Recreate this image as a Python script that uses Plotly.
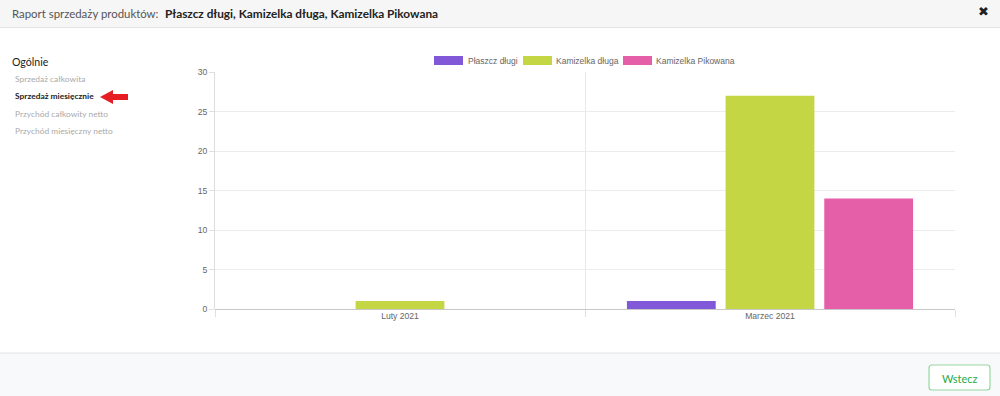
import plotly.graph_objects as go

categories = ["Luty 2021", "Marzec 2021"]
series_names = ["Płaszcz długi", "Kamizelka długa", "Kamizelka Pikowana"]
plaszcz_dlugi = [0, 1]
kamizelka_dluga = [1, 27]
kamizelka_pikowana = [0, 14]
y_ticks = [0, 5, 10, 15, 20, 25, 30]

menu_title = "Ogólnie"
menu_items = ["Sprzedaż całkowita", "Sprzedaż miesięcznie", "Przychód całkowity netto", "Przychód miesięczny netto"]
active_item = 1
header_label = "Raport sprzedaży produktów:"
header_products = "Płaszcz długi, Kamizelka długa, Kamizelka Pikowana"
button_label = "Wstecz"

W, H = 1000, 396
colors = ["rgb(129,89,216)", "rgb(197,214,68)", "rgb(229,94,168)"]
values = [plaszcz_dlugi, kamizelka_dluga, kamizelka_pikowana]

def px(x):
    return x / W

def py(y):
    return 1 - y / H

fig = go.Figure()
for name, vals, c in zip(series_names, values, colors):
    fig.add_trace(go.Bar(x=categories, y=vals, name=name, marker=dict(color=c, line=dict(width=0)),
                         showlegend=False))

shapes = []
annotations = []

# header
shapes.append(dict(type="rect", xref="paper", yref="paper", x0=0, x1=1, y0=py(27), y1=1,
                   fillcolor="#f6f6f6", line=dict(width=0), layer="below"))
shapes.append(dict(type="line", xref="paper", yref="paper", x0=0, x1=1, y0=py(27.5), y1=py(27.5),
                   line=dict(color="#e3e3e3", width=1)))
annotations.append(dict(text=header_label, x=px(10), y=py(13), xref="paper", yref="paper",
                        xanchor="left", yanchor="middle", showarrow=False,
                        font=dict(family="Lato", size=11.4, color="#555")))
annotations.append(dict(text="<b>" + header_products + "</b>", x=px(163), y=py(13), xref="paper", yref="paper",
                        xanchor="left", yanchor="middle", showarrow=False,
                        font=dict(family="Lato", size=11.8, color="#222")))
annotations.append(dict(text="✖", x=px(983), y=py(12), xref="paper", yref="paper",
                        xanchor="center", yanchor="middle", showarrow=False,
                        font=dict(family="DejaVu Sans", size=13, color="#222")))

# footer
shapes.append(dict(type="rect", xref="paper", yref="paper", x0=0, x1=1, y0=0, y1=py(353),
                   fillcolor="#f8f9fa", line=dict(width=0), layer="below"))
shapes.append(dict(type="line", xref="paper", yref="paper", x0=0, x1=1, y0=py(353), y1=py(353),
                   line=dict(color="#e3e3e3", width=1)))
shapes.append(dict(type="path", xref="paper", yref="paper",
                   path="M {a},{b} L {c},{b} Q {d},{b} {d},{e} L {d},{f} Q {d},{g} {c},{g} L {a},{g} Q {h},{g} {h},{f} L {h},{e} Q {h},{b} {a},{b} Z".format(
                       a=px(932), c=px(987), d=px(990), h=px(929),
                       b=py(365), e=py(368), f=py(387), g=py(390)),
                   fillcolor="#ffffff", line=dict(color="rgb(150,215,160)", width=1.2)))
annotations.append(dict(text=button_label, x=px(959.5), y=py(378), xref="paper", yref="paper",
                        xanchor="center", yanchor="middle", showarrow=False,
                        font=dict(family="Lato", size=11, color="rgb(40,170,70)")))

# side menu
annotations.append(dict(text=menu_title, x=px(10), y=py(62), xref="paper", yref="paper",
                        xanchor="left", yanchor="middle", showarrow=False,
                        font=dict(family="Lato", size=10.6, color="#222")))
for i, item in enumerate(menu_items):
    yy = 79 + i * 17.4
    active = i == active_item
    annotations.append(dict(text=("<b>" + item + "</b>") if active else item, x=px(13), y=py(yy),
                            xref="paper", yref="paper", xanchor="left", yanchor="middle", showarrow=False,
                            font=dict(family="Lato", size=8.4, color="#222" if active else "#aaa")))
# red arrow
shapes.append(dict(type="path", xref="paper", yref="paper",
                   path="M {x0},{ym} L {x1},{yt} L {x1},{ys1} L {x2},{ys1} L {x2},{ys2} L {x1},{ys2} L {x1},{yb} Z".format(
                       x0=px(100), x1=px(113), x2=px(128), ym=py(97), yt=py(90), yb=py(104),
                       ys1=py(94), ys2=py(100)),
                   fillcolor="rgb(230,30,35)", line=dict(width=0)))

# custom legend
legend_box_x = [434, 523, 623]
legend_text_x = [466, 554, 654]
for name, c, bx, tx in zip(series_names, colors, legend_box_x, legend_text_x):
    shapes.append(dict(type="rect", xref="paper", yref="paper", x0=px(bx), x1=px(bx + 29),
                       y0=py(65), y1=py(56), fillcolor=c, line=dict(width=0)))
    annotations.append(dict(text=name, x=px(tx), y=py(60.5), xref="paper", yref="paper",
                            xanchor="left", yanchor="middle", showarrow=False,
                            font=dict(family="Liberation Sans", size=8.5, color="#666")))

fig.update_layout(
    width=W, height=H,
    margin=dict(l=0, r=0, t=0, b=0, pad=0, autoexpand=False),
    paper_bgcolor="white", plot_bgcolor="white",
    barmode="group", bargap=0.2, bargroupgap=0.1,
    showlegend=False,
    shapes=shapes, annotations=annotations,
    font=dict(family="Liberation Sans", size=8.5, color="#666"),
    xaxis=dict(domain=[px(215), px(955)], range=[-0.5, 1.5], tickson="boundaries",
               automargin=False,
               showgrid=True, gridcolor="#e8e8e8", gridwidth=1,
               ticks="outside", ticklen=7, tickcolor="#e0e0e0",
               showline=False, tickfont=dict(size=8.6, color="#666")),
    yaxis=dict(domain=[py(309), py(72)], range=[0, 30], tickvals=y_ticks,
               automargin=False,
               showgrid=True, gridcolor="#ececec", gridwidth=1,
               zeroline=True, zerolinecolor="#c8c8c8", zerolinewidth=1,
               showline=True, linecolor="#dcdcdc", linewidth=1,
               ticks="outside", ticklen=5, tickcolor="#e0e0e0",
               tickfont=dict(size=8.6, color="#666")),
)

fig.write_html("out.html")
